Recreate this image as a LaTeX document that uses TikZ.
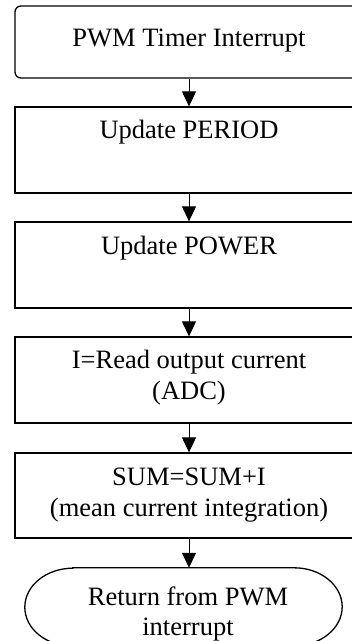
\documentclass[tikz,border=0pt]{standalone}
\usepackage{fontspec}
\setmainfont{Liberation Serif}
\usetikzlibrary{arrows.meta}
\begin{document}
\begin{tikzpicture}[x=1pt,y=-1pt,
  box/.style={draw, line width=1.3pt, minimum width=348pt, inner sep=0pt},
  txt/.style={anchor=base, inner sep=0pt, align=center, font=\fontsize{26.5}{31}\selectfont},
  arr/.style={line width=1pt, -{Triangle[width=14pt,length=15pt]}}]
\clip (0,0) rectangle (352,641);
\useasboundingbox (0,0) rectangle (352,641);
\node[box, rounded corners=6pt, minimum height=72pt] (b1) at (189,42) {};
\node[box, minimum height=86pt] (b2) at (189,150) {};
\node[box, minimum height=86pt] (b3) at (189,265) {};
\node[box, minimum height=86pt] (b4) at (189,380) {};
\node[box, minimum height=85pt] (b5) at (189,495.5) {};
\node[inner sep=0pt, minimum width=317pt, minimum height=78pt] (term) at (183.5,607) {};
\draw[line width=1.3pt] ([xshift=48pt]term.north west) -- ([xshift=-48pt]term.north east)
  arc[start angle=90, end angle=-90, x radius=48pt, y radius=39pt]
  -- ([xshift=48pt]term.south west)
  arc[start angle=270, end angle=90, x radius=48pt, y radius=39pt] -- cycle;
\node[txt] (t1) at (189,46) {PWM Timer Interrupt};
\node[txt] (t2) at (189,138) {Update PERIOD};
\node[txt] (t3) at (189,254) {Update POWER};
\node[txt] (t4) at (189,399) {I=Read output current\\(ADC)};
\node[txt] (t5) at (189,516) {SUM=SUM+I\\(mean current integration)};
\node[txt, font=\fontsize{26.5}{30}\selectfont] (t6) at (188,635.5) {Return from PWM\\interrupt};
\draw[arr] (b1.south) -- (b2.north);
\draw[arr] (b2.south) -- (b3.north);
\draw[arr] (b3.south) -- (b4.north);
\draw[arr] (b4.south) -- (b5.north);
\draw[arr] (b5.south) -- (b5.south |- term.north);
\end{tikzpicture}
\end{document}
